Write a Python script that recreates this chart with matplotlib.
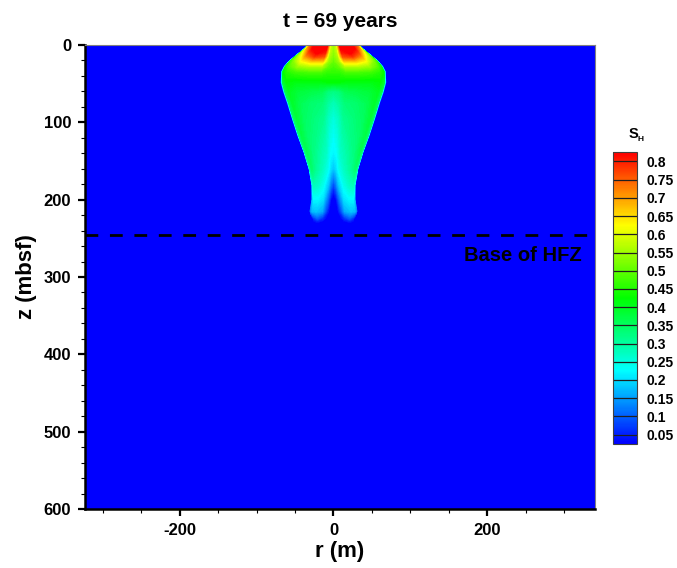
import matplotlib

matplotlib.use("Agg")

import matplotlib.pyplot as plt
import numpy as np
from matplotlib.cm import ScalarMappable
from matplotlib.colors import LinearSegmentedColormap, Normalize
from matplotlib.ticker import MultipleLocator

plt.rcParams["font.family"] = ["Liberation Sans", "DejaVu Sans"]
plt.rcParams["font.weight"] = "bold"
plt.rcParams["axes.titleweight"] = "bold"
plt.rcParams["axes.labelweight"] = "bold"
plt.rcParams["axes.unicode_minus"] = False

# plume depth stations (mbsf) and plume half-width at each (m)
depth = [0, 5, 10, 15, 21, 28, 35, 48, 60, 75, 95, 117, 138, 160, 181, 200, 215, 224, 232, 600]
half_width = [32, 37, 43, 49, 56, 62, 65.5, 66, 63, 58, 52, 45, 37.5, 31, 27.5, 27.5, 30, 28, 28, 28]

# radial stations as a fraction of the local half-width
radius_frac = [0.0, 0.12, 0.25, 0.5, 0.75, 0.92, 1.0]

# hydrate saturation S_H, one row per depth station, one column per radial station
s_h = [
    [0.54, 0.58, 0.82, 0.85, 0.83, 0.76, 0.62],
    [0.54, 0.58, 0.82, 0.85, 0.82, 0.70, 0.56],
    [0.53, 0.57, 0.80, 0.83, 0.77, 0.62, 0.52],
    [0.52, 0.56, 0.76, 0.78, 0.70, 0.57, 0.49],
    [0.50, 0.54, 0.67, 0.67, 0.62, 0.53, 0.47],
    [0.48, 0.50, 0.56, 0.56, 0.54, 0.49, 0.44],
    [0.46, 0.46, 0.48, 0.48, 0.47, 0.45, 0.42],
    [0.42, 0.42, 0.41, 0.41, 0.41, 0.42, 0.38],
    [0.32, 0.33, 0.36, 0.37, 0.38, 0.40, 0.36],
    [0.28, 0.30, 0.33, 0.34, 0.36, 0.39, 0.35],
    [0.25, 0.27, 0.31, 0.33, 0.35, 0.38, 0.34],
    [0.23, 0.25, 0.29, 0.32, 0.34, 0.37, 0.33],
    [0.22, 0.23, 0.27, 0.30, 0.33, 0.36, 0.32],
    [0.18, 0.20, 0.24, 0.28, 0.31, 0.34, 0.30],
    [0.08, 0.12, 0.18, 0.24, 0.27, 0.28, 0.25],
    [0.00, 0.03, 0.10, 0.20, 0.22, 0.22, 0.18],
    [0.00, 0.00, 0.05, 0.16, 0.18, 0.17, 0.12],
    [0.00, 0.00, 0.00, 0.06, 0.10, 0.06, 0.00],
    [0.00, 0.00, 0.00, 0.00, 0.00, 0.00, 0.00],
    [0.00, 0.00, 0.00, 0.00, 0.00, 0.00, 0.00],
]

legend_levels = [0.05, 0.1, 0.15, 0.2, 0.25, 0.3, 0.35, 0.4, 0.45, 0.5, 0.55, 0.6, 0.65, 0.7, 0.75, 0.8]
hfz_base = 246
title = "t = 69 years"

cmap = LinearSegmentedColormap.from_list(
    "small_rainbow", ["#0000ff", "#00ffff", "#00ff00", "#ffff00", "#ff0000"]
)
norm = Normalize(vmin=0.025, vmax=0.825)

# axisymmetric mesh mirrored about r = 0, padded with zero columns out to the domain edge
hw = np.array(half_width, dtype=float)
rf = np.array(radius_frac)
frac = np.concatenate([-rf[::-1], rf[1:]])
sat = np.array(s_h)
sat = np.hstack([sat[:, ::-1], sat[:, 1:]])
n = len(depth)
X = np.outer(hw, frac)
X = np.hstack([np.full((n, 1), -345.0), -1.04 * hw[:, None], X, 1.04 * hw[:, None], np.full((n, 1), 345.0)])
C = np.hstack([np.zeros((n, 2)), sat, np.zeros((n, 2))])
Y = np.repeat(np.array(depth, dtype=float)[:, None], X.shape[1], axis=1)

fig = plt.figure(figsize=(6.77, 5.68), dpi=100)
ax = fig.add_axes([0.1256, 0.1039, 0.7533, 0.8169])
ax.set_facecolor("#0000ff")
ax.contourf(X, Y, C, levels=np.linspace(0, 0.85, 171), cmap=cmap, norm=norm)

ax.axhline(hfz_base, color="black", lw=2.0, dashes=(4.6, 4.2))
ax.text(323, 272, "Base of HFZ", ha="right", va="center", fontsize=14.5, color="black", zorder=5)

ax.set_xlim(-323, 340)
ax.set_ylim(600, 0)
ax.xaxis.set_major_locator(MultipleLocator(200))
ax.xaxis.set_minor_locator(MultipleLocator(50))
ax.yaxis.set_major_locator(MultipleLocator(100))
ax.yaxis.set_minor_locator(MultipleLocator(20))
ax.tick_params(which="major", direction="out", length=5, width=1.6, labelsize=12, pad=5)
ax.tick_params(which="minor", direction="out", length=2.8, width=0.8)
ax.tick_params(top=False, right=False, which="both")
for side in ("left", "bottom"):
    ax.spines[side].set_linewidth(1.8)
for side in ("top", "right"):
    ax.spines[side].set_linewidth(0.8)
    ax.spines[side].set_color("#808080")

ax.set_xlabel("r (m)", fontsize=16, labelpad=2)
ax.set_ylabel("z (mbsf)", fontsize=16, labelpad=5)
ax.set_title(title, fontsize=15, pad=13)

cax = fig.add_axes([0.9055, 0.2188, 0.0355, 0.513])
cb = fig.colorbar(ScalarMappable(norm=norm, cmap=cmap), cax=cax, ticks=legend_levels)
cb.ax.set_yticklabels([f"{v:g}" for v in legend_levels])
cb.ax.tick_params(length=0, labelsize=10, pad=7)
cb.outline.set_linewidth(0.8)
cb.outline.set_edgecolor("#404040")
for lv in legend_levels:
    cax.axhline(lv, color="#202020", lw=0.9)

fig.text(0.928, 0.752, "S", fontsize=10.5, ha="left", va="bottom")
fig.text(0.942, 0.749, "H", fontsize=6, ha="left", va="bottom")

fig.savefig("out.png", dpi=100)
